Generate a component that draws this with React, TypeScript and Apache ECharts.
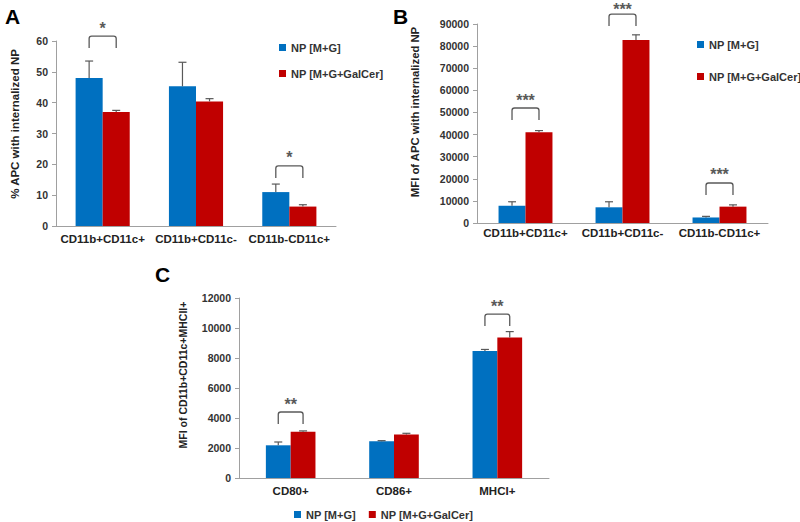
import React, { useEffect, useRef } from 'react';
import * as echarts from 'echarts';

const SERIES_NAMES = ['NP [M+G]', 'NP [M+G+GalCer]'];
const catsAB = ['CD11b+CD11c+', 'CD11b+CD11c-', 'CD11b-CD11c+'];
const catsC = ['CD80+', 'CD86+', 'MHCI+'];

const aBlue = [48, 45.3, 11];
const aBlueErr = [5.5, 7.8, 2.6];
const aRed = [37, 40.4, 6.3];
const aRedErr = [0.5, 0.9, 0.6];
const aSig: [number, number, string][] = [[0, 61.6, '*'], [2, 19.5, '*']];

const bBlue = [7800, 7100, 2500];
const bBlueErr = [1800, 2500, 500];
const bRed = [41000, 82800, 7400];
const bRedErr = [800, 2300, 800];
const bSig: [number, number, string][] = [[0, 52000, '***'], [1, 94500, '***'], [2, 18100, '***']];

const cBlue = [2180, 2450, 8460];
const cBlueErr = [220, 40, 110];
const cRed = [3080, 2900, 9370];
const cRedErr = [60, 80, 390];
const cSig: [number, number, string][] = [[0, 4400, '**'], [2, 10930, '**']];

const BLUE = '#0070C0';
const RED = '#C00000';
const DARK = '#595959';
const FONT = '"Liberation Sans", Arial, sans-serif';

function errRender(frac: number) {
  return (params: any, api: any) => {
    const cat = api.value(0);
    const lo = api.value(1);
    const hi = api.value(2);
    const side = api.value(3);
    const band = api.size([1, 0])[0];
    const bw = band * frac;
    const p0 = api.coord([cat, lo]);
    const p1 = api.coord([cat, hi]);
    const x = p0[0] + (side * bw) / 2;
    const cap = 4;
    const st = { stroke: DARK, lineWidth: 1.2 };
    return {
      type: 'group',
      children: [
        { type: 'line', shape: { x1: x, y1: p0[1], x2: x, y2: p1[1] }, style: st },
        { type: 'line', shape: { x1: x - cap, y1: p1[1], x2: x + cap, y2: p1[1] }, style: st },
      ],
    };
  };
}

function sigRender(frac: number, sig: [number, number, string][]) {
  return (params: any, api: any) => {
    const cat = api.value(0);
    const top = api.value(1);
    const label = sig[params.dataIndex][2];
    const band = api.size([1, 0])[0];
    const bw = band * frac;
    const p = api.coord([cat, top]);
    const xl = p[0] - bw / 2;
    const xr = p[0] + bw / 2;
    const yt = p[1];
    const yb = yt + 12;
    const r = 2.5;
    const d = `M${xl} ${yb} L${xl} ${yt + r} Q${xl} ${yt} ${xl + r} ${yt} L${xr - r} ${yt} Q${xr} ${yt} ${xr} ${yt + r} L${xr} ${yb}`;
    return {
      type: 'group',
      children: [
        { type: 'path', shape: { pathData: d }, style: { fill: 'none', stroke: DARK, lineWidth: 1.3 } },
        {
          type: 'text',
          x: p[0],
          y: Math.max(yt - 8, 9),
          style: {
            text: label,
            align: 'center',
            verticalAlign: 'middle',
            fontSize: 16,
            lineHeight: 10,
            fontWeight: 'bold',
            fontFamily: FONT,
            fill: DARK,
          },
        },
      ],
    };
  };
}

function panelSeries(
  idx: number,
  blue: number[],
  blueErr: number[],
  red: number[],
  redErr: number[],
  sig: [number, number, string][],
  frac: number
) {
  const bw = `${(frac * 100).toFixed(1)}%`;
  return [
    {
      type: 'bar',
      name: SERIES_NAMES[0],
      xAxisIndex: idx,
      yAxisIndex: idx,
      data: blue,
      barWidth: bw,
      barGap: '0%',
      itemStyle: { color: BLUE },
    },
    {
      type: 'bar',
      name: SERIES_NAMES[1],
      xAxisIndex: idx,
      yAxisIndex: idx,
      data: red,
      barWidth: bw,
      barGap: '0%',
      itemStyle: { color: RED },
    },
    {
      type: 'custom',
      name: 'err' + idx,
      xAxisIndex: idx,
      yAxisIndex: idx,
      z: 5,
      clip: false,
      renderItem: errRender(frac),
      encode: { x: 0, y: 2 },
      data: [
        ...blue.map((v, i) => [i, v, v + blueErr[i], -1]),
        ...red.map((v, i) => [i, v, v + redErr[i], 1]),
      ],
    },
    {
      type: 'custom',
      name: 'sig' + idx,
      xAxisIndex: idx,
      yAxisIndex: idx,
      z: 5,
      clip: false,
      renderItem: sigRender(frac, sig),
      encode: { x: 0, y: 1 },
      data: sig.map((s) => [s[0], s[1]]),
    },
  ];
}

const tickLabel = {
  fontSize: 10.5,
  fontWeight: 'bold',
  color: '#333',
  fontFamily: FONT,
  margin: 8,
  formatter: (v: number) => String(v),
};
const catLabel = { fontSize: 11.5, fontWeight: 'bold', color: '#222', fontFamily: FONT, margin: 7, interval: 0 };
const axisLine = { show: true, lineStyle: { color: '#A0A0A0', width: 1 } };

function xAx(idx: number, cats: string[], margin: number) {
  return {
    type: 'category',
    gridIndex: idx,
    data: cats,
    axisLine,
    axisTick: { show: false },
    axisLabel: { ...catLabel, margin },
  };
}

function yAx(idx: number, max: number, interval: number) {
  return {
    type: 'value',
    gridIndex: idx,
    min: 0,
    max,
    interval,
    axisLine,
    axisTick: { show: true, length: 4, lineStyle: { color: '#A0A0A0' } },
    splitLine: { show: false },
    axisLabel: tickLabel,
  };
}

const legendText = { fontSize: 11, fontWeight: 'bold', color: '#333', fontFamily: FONT };
const legendBase = {
  data: SERIES_NAMES,
  itemWidth: 7,
  itemHeight: 7,
  icon: 'rect',
  padding: 0,
  textStyle: legendText,
  selectedMode: false,
};

export default function App() {
  const ref = useRef<HTMLDivElement>(null);
  useEffect(() => {
    if (!ref.current) return;
    const chart = echarts.init(ref.current, undefined, { renderer: 'svg' });
    const titleStyle = { fontWeight: 'bold', fill: '#222', fontFamily: FONT, align: 'center', verticalAlign: 'middle' };
    const letterStyle = { fontSize: 21, fontWeight: 'bold', fill: '#000', fontFamily: FONT, align: 'left', verticalAlign: 'top' };
    chart.setOption({
      animation: false,
      backgroundColor: '#fff',
      grid: [
        { left: 56, top: 41, width: 280, height: 185, outerBoundsMode: 'none', containLabel: false },
        { left: 477, top: 24, width: 291, height: 199, outerBoundsMode: 'none', containLabel: false },
        { left: 239, top: 298, width: 310, height: 180, outerBoundsMode: 'none', containLabel: false },
      ],
      xAxis: [xAx(0, catsAB, 7), xAx(1, catsAB, 4), xAx(2, catsC, 7)],
      yAxis: [yAx(0, 60, 10), yAx(1, 90000, 10000), yAx(2, 12000, 2000)],
      legend: [
        { ...legendBase, orient: 'vertical', left: 279, top: 42, itemGap: 15 },
        { ...legendBase, orient: 'vertical', left: 697, top: 39, itemGap: 21 },
        { ...legendBase, orient: 'horizontal', left: 294, top: 509, itemGap: 13 },
      ],
      graphic: [
        { type: 'text', left: 5, top: 6, style: { text: 'A', ...letterStyle } },
        { type: 'text', left: 393, top: 6, style: { text: 'B', ...letterStyle } },
        { type: 'text', left: 155, top: 264, style: { text: 'C', ...letterStyle } },
        { type: 'text', x: 15, y: 124, rotation: Math.PI / 2, style: { text: '% APC with internalized NP', fontSize: 11.5, ...titleStyle } },
        { type: 'text', x: 415, y: 112, rotation: Math.PI / 2, style: { text: 'MFI of APC with internalized NP', fontSize: 11.3, ...titleStyle } },
        { type: 'text', x: 183, y: 375, rotation: Math.PI / 2, style: { text: 'MFI of CD11b+CD11c+MHCII+', fontSize: 10.5, ...titleStyle } },
      ],
      series: [
        ...panelSeries(0, aBlue, aBlueErr, aRed, aRedErr, aSig, 0.29),
        ...panelSeries(1, bBlue, bBlueErr, bRed, bRedErr, bSig, 0.278),
        ...panelSeries(2, cBlue, cBlueErr, cRed, cRedErr, cSig, 0.24),
      ],
    });
    return () => chart.dispose();
  }, []);
  return <div ref={ref} style={{ position: 'fixed', left: 0, top: 0, width: 800, height: 522 }} />;
}
